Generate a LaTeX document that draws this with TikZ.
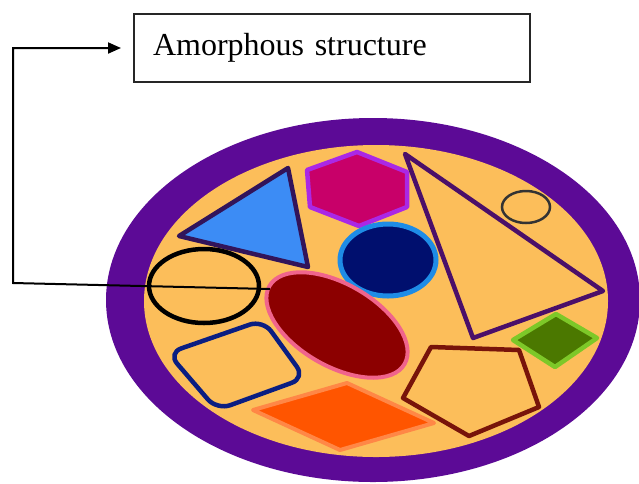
\documentclass[tikz,border=0pt]{standalone}
\usepackage{fontspec}
\setmainfont{Liberation Serif}
\usetikzlibrary{arrows.meta}

\definecolor{ringpurple}{RGB}{92,10,150}
\definecolor{coreorange}{RGB}{252,190,90}
\definecolor{skyblue}{RGB}{60,140,245}
\definecolor{darkedge}{RGB}{50,20,90}
\definecolor{hexfill}{RGB}{200,0,105}
\definecolor{hexedge}{RGB}{170,40,230}
\definecolor{navyfill}{RGB}{0,15,110}
\definecolor{navyedge}{RGB}{30,140,230}
\definecolor{trieedge}{RGB}{75,15,105}
\definecolor{redfill}{RGB}{140,0,0}
\definecolor{rededge}{RGB}{240,100,140}
\definecolor{squareedge}{RGB}{10,30,130}
\definecolor{diafill}{RGB}{255,85,0}
\definecolor{diaedge}{RGB}{255,135,70}
\definecolor{pentedge}{RGB}{120,20,10}
\definecolor{greenfill}{RGB}{75,120,0}
\definecolor{greenedge}{RGB}{125,200,40}

\tikzset{
  labelbox/.style={draw=black!85, line width=2pt, minimum width=396pt,
    minimum height=68pt, inner xsep=19pt, text width=358pt, align=left,
    font=\fontsize{32}{34}\selectfont},
  link/.style={draw=black, line width=2pt},
  outline/.style={line width=4.5pt, line join=round},
}

\begin{document}
\begin{tikzpicture}[x=1pt,y=-1pt]
\useasboundingbox (0,0) rectangle (639,483);

% caption box
\node[labelbox, anchor=west] (box) at (133,48) {Amorphous structure};

% ring and core
\fill[ringpurple] (373,300) ellipse [x radius=267, y radius=182];
\fill[coreorange] (376,301) ellipse [x radius=232, y radius=156];

% blue triangle
\filldraw[fill=skyblue, draw=darkedge, outline] (179,236) -- (288,168) -- (308,267) -- cycle;

% hexagon
\filldraw[fill=hexfill, draw=hexedge, outline]
  (357,152) -- (407,172) -- (407,207) -- (359,226) -- (310,207) -- (307,170) -- cycle;

% navy disc
\filldraw[fill=navyfill, draw=navyedge, line width=5pt] (388,260) ellipse [x radius=48, y radius=36];

% large open triangle
\draw[draw=trieedge, outline] (405,154) -- (603,291) -- (473,338) -- cycle;

% small ring
\draw[draw=black!80, line width=2.5pt] (526,207) ellipse [x radius=24, y radius=16];

% black ellipse
\draw[draw=black, line width=4.5pt] (204,286) ellipse [x radius=55, y radius=37];

% dark red ellipse
\filldraw[fill=redfill, draw=rededge, line width=4pt, rotate around={-30:(337,325)}]
  (337,325) ellipse [x radius=78, y radius=41];

% rounded square
\draw[draw=squareedge, line width=4.5pt, rounded corners=14pt]
  (168,353) -- (263,320) -- (305,378) -- (217,410) -- cycle;

% orange diamond
\filldraw[fill=diafill, draw=diaedge, line width=4pt, line join=round]
  (253,410) -- (347,383) -- (434,423) -- (340,450) -- cycle;

% pentagon
\draw[draw=pentedge, outline]
  (431,347) -- (519,350) -- (539,407) -- (469,436) -- (403,398) -- cycle;

% green diamond
\filldraw[fill=greenfill, draw=greenedge, line width=4.5pt, line join=round]
  (513,340) -- (556,314) -- (597,338) -- (555,367) -- cycle;

% connector to the caption
\coordinate (tail) at (270,289);
\coordinate (bend) at (13,283);
\draw[link, -{Triangle[length=13pt,width=11pt]}, shorten >=12pt]
  (tail) -- (bend) |- (box.west);
\end{tikzpicture}
\end{document}
